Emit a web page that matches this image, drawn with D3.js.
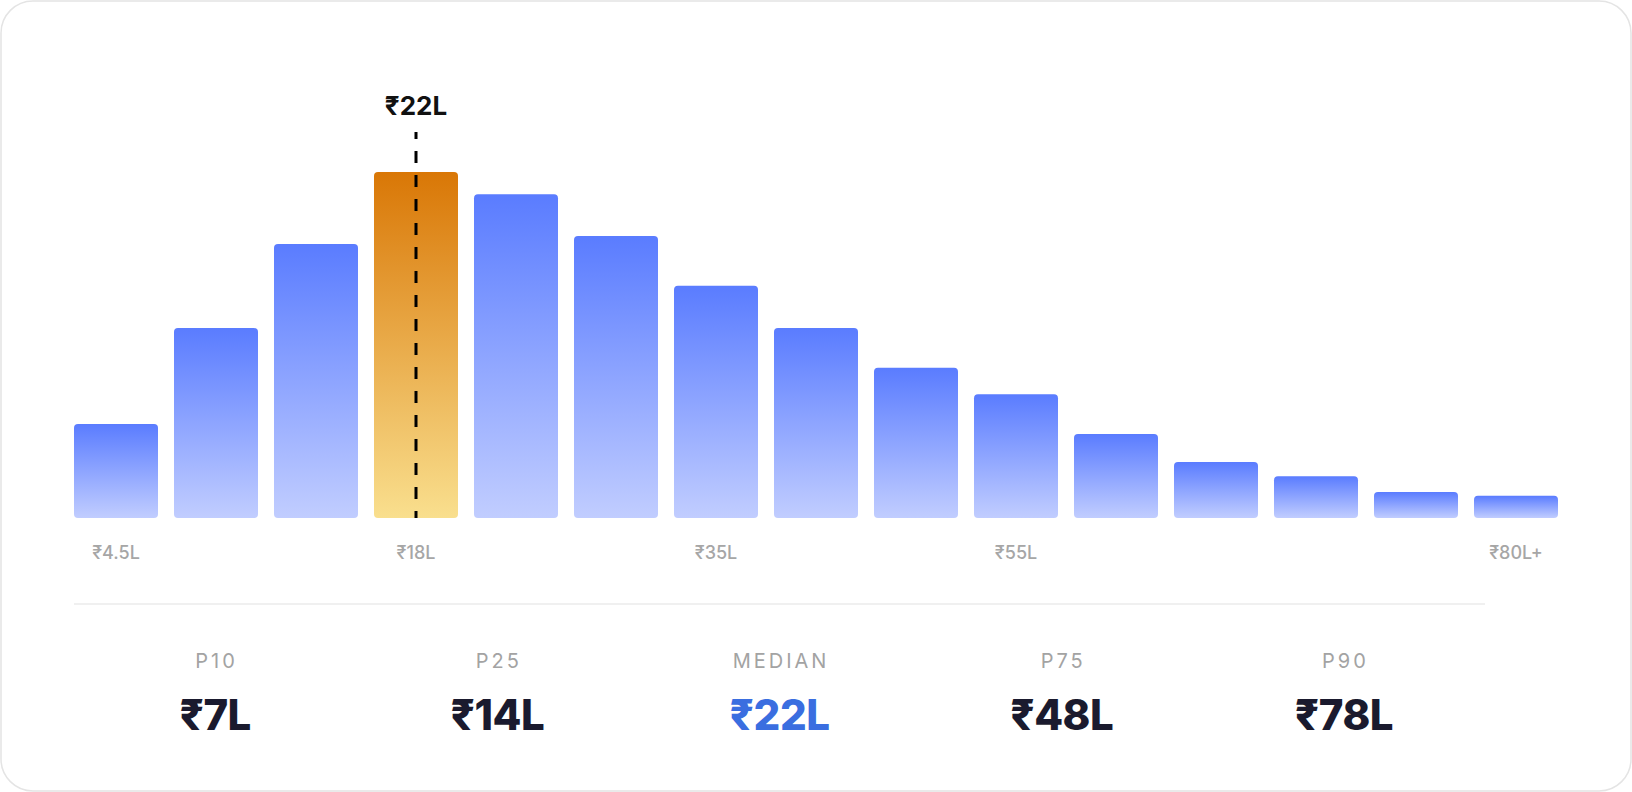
<!DOCTYPE html>
<html>
<head>
<meta charset="utf-8">
<script src="https://cdn.jsdelivr.net/npm/d3@7"></script>
<style>
  html, body { margin: 0; padding: 0; background: #fff; }
  svg { display: block; font-family: Inter, "Noto Sans", sans-serif; }
</style>
</head>
<body>
<div id="chart"></div>
<script>
// salary distribution, bar height = share of the tallest bin (%)
var binLabels = ["₹4.5L", "", "", "₹18L", "", "", "₹35L", "", "", "₹55L", "", "", "", "", "₹80L+"];
var shares = [27.2, 54.9, 79.2, 100, 93.6, 81.5, 67.1, 54.9, 43.4, 35.8, 24.3, 16.2, 12.1, 7.5, 6.4];
var medianBin = 3;
var medianLabel = "₹22L";

var statLabels = ["P10", "P25", "MEDIAN", "P75", "P90"];
var statValues = ["₹7L", "₹14L", "₹22L", "₹48L", "₹78L"];
var highlightStat = "MEDIAN";

var W = 1632, H = 792;

var svg = d3.select("#chart")
  .append("svg")
  .attr("width", W)
  .attr("height", H);

var defs = svg.append("defs");

var blue = defs.append("linearGradient")
  .attr("id", "blueGrad")
  .attr("x1", 0).attr("y1", 0).attr("x2", 0).attr("y2", 1);
blue.append("stop").attr("offset", "0%").attr("stop-color", "#5a7cff");
blue.append("stop").attr("offset", "100%").attr("stop-color", "#c1cdff");

var orange = defs.append("linearGradient")
  .attr("id", "orangeGrad")
  .attr("x1", 0).attr("y1", 0).attr("x2", 0).attr("y2", 1);
orange.append("stop").attr("offset", "0%").attr("stop-color", "#d97706");
orange.append("stop").attr("offset", "100%").attr("stop-color", "#f9df8e");

// card
svg.append("rect")
  .attr("x", 1).attr("y", 1)
  .attr("width", W - 2).attr("height", H - 2)
  .attr("rx", 32)
  .attr("fill", "#fff")
  .attr("stroke", "#e4e4e4")
  .attr("stroke-width", 1.5);

var x = d3.scaleBand()
  .domain(d3.range(shares.length))
  .range([74, 1558])
  .paddingInner(0.16)
  .paddingOuter(0);

var y = d3.scaleLinear()
  .domain([0, 100])
  .range([518, 172]);

svg.selectAll(".bar")
  .data(shares)
  .enter().append("rect")
  .attr("class", "bar")
  .attr("x", function(d, i) { return x(i); })
  .attr("y", function(d) { return y(d); })
  .attr("width", x.bandwidth())
  .attr("height", function(d) { return y(0) - y(d); })
  .attr("rx", 4)
  .attr("fill", function(d, i) { return i === medianBin ? "url(#orangeGrad)" : "url(#blueGrad)"; });

// median marker
var mx = x(medianBin) + x.bandwidth() / 2;
svg.append("line")
  .attr("x1", mx).attr("x2", mx)
  .attr("y1", 132).attr("y2", y(0))
  .attr("stroke", "#000")
  .attr("stroke-width", 3)
  .attr("stroke-dasharray", "12 12")
  .attr("stroke-dashoffset", 5);

svg.append("text")
  .attr("x", mx)
  .attr("y", 115)
  .attr("text-anchor", "middle")
  .style("font-size", "26px")
  .style("font-weight", 700)
  .style("fill", "#111")
  .text(medianLabel);

// bin labels
var xAxis = d3.axisBottom(x)
  .tickValues(d3.range(shares.length).filter(function(i) { return binLabels[i] !== ""; }))
  .tickFormat(function(i) { return binLabels[i]; })
  .tickSize(0);

var gx = svg.append("g")
  .attr("transform", "translate(0,518)")
  .call(xAxis);
gx.select(".domain").remove();
gx.selectAll("text")
  .attr("dy", null)
  .attr("y", 41)
  .style("font-family", "Inter, sans-serif")
  .style("font-size", "18px")
  .style("font-weight", 500)
  .style("fill", "#a6a6a6");

// separator
svg.append("line")
  .attr("x1", 74).attr("x2", 1485)
  .attr("y1", 604).attr("y2", 604)
  .attr("stroke", "#ebebeb")
  .attr("stroke-width", 1.5);

// percentile stats
var sx = d3.scaleBand()
  .domain(statLabels)
  .range([74, 1485]);

var stat = svg.selectAll(".stat")
  .data(statLabels)
  .enter().append("g")
  .attr("class", "stat")
  .attr("transform", function(d) { return "translate(" + (sx(d) + sx.bandwidth() / 2) + ",0)"; });

stat.append("text")
  .attr("y", 668)
  .attr("x", 1.5)
  .attr("text-anchor", "middle")
  .style("font-size", "20px")
  .style("font-weight", 400)
  .style("letter-spacing", "3px")
  .style("fill", "#a3a3a3")
  .text(function(d) { return d; });

stat.append("text")
  .attr("y", 730)
  .attr("text-anchor", "middle")
  .style("font-size", "42px")
  .style("font-weight", 800)
  .style("letter-spacing", "-0.5px")
  .style("fill", function(d) { return d === highlightStat ? "#3a6ee0" : "#1a1a2e"; })
  .text(function(d, i) { return statValues[i]; });
</script>
</body>
</html>
